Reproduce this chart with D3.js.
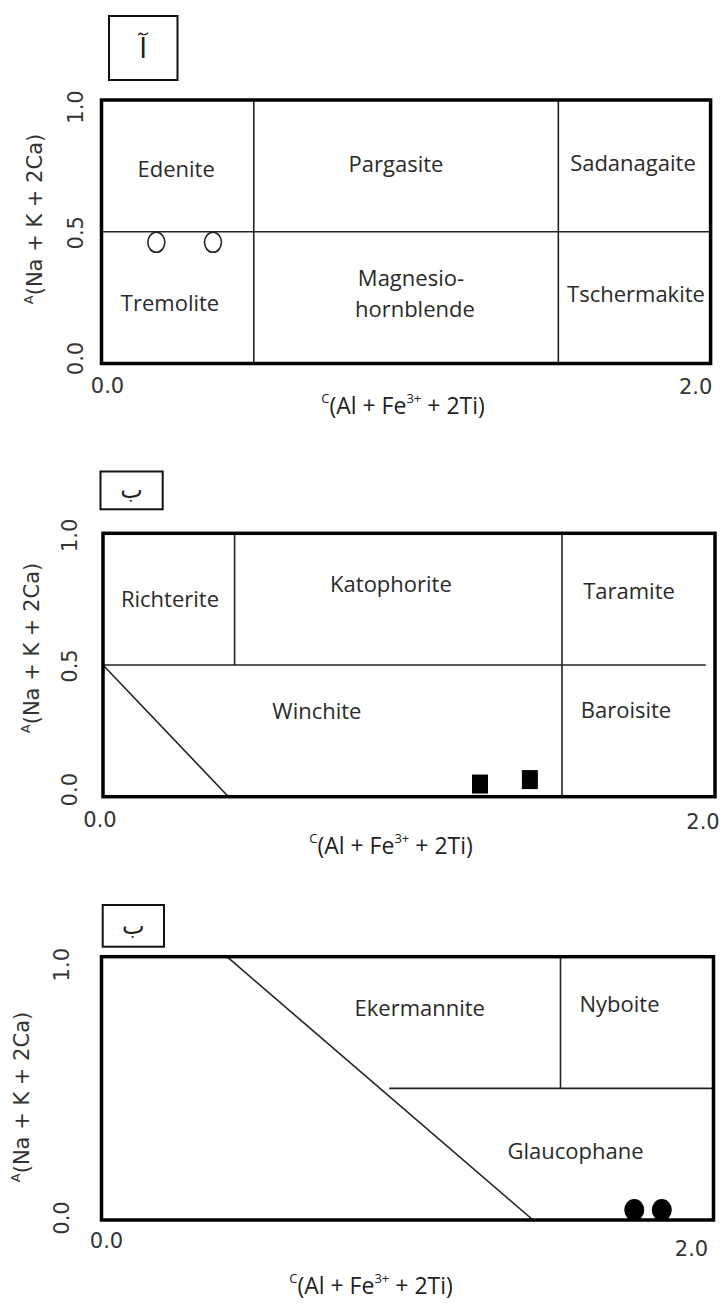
<!DOCTYPE html>
<html><head><meta charset="utf-8">
<script src="https://cdn.jsdelivr.net/npm/d3@7"></script>
<style>body{margin:0;background:#fff}</style></head>
<body>
<svg id="c" width="725" height="1304"></svg>
<script>
// ---------- data ----------
const panelTags = ["آ", "ب", "ب"];
const xTickValues = [0, 2];
const xTickLabels = ["0.0", "2.0"];
const yTickValuesAB = [0, 0.5, 1];
const yTickValuesC = [0, 1];
const yTickLabelsAB = ["0.0", "0.5", "1.0"];
const yTickLabelsC = ["0.0", "1.0"];

// boundary lines [x1, y1, x2, y2] in data units
const linesA = [[0.5, 0, 0.5, 1], [1.5, 0, 1.5, 1], [0, 0.5, 2, 0.5]];
const linesB = [[0.43, 0.5, 0.43, 1], [1.5, 0, 1.5, 1], [0, 0.5, 1.97, 0.5], [0, 0.5, 0.41, 0]];
const linesC = [[0.41, 1, 1.41, 0], [0.94, 0.5, 2, 0.5], [1.5, 0.5, 1.5, 1]];

// field names and their anchor (data units)
const namesA = ["Edenite", "Pargasite", "Sadanagaite", "Tremolite", "Magnesio-", "hornblende", "Tschermakite"];
const namesAx = [0.245, 0.967, 1.745, 0.225, 1.016, 1.029, 1.755];
const namesAy = [0.742, 0.760, 0.764, 0.233, 0.328, 0.211, 0.268];
const namesB = ["Richterite", "Katophorite", "Taramite", "Winchite", "Baroisite"];
const namesBx = [0.219, 0.941, 1.719, 0.699, 1.709];
const namesBy = [0.755, 0.812, 0.785, 0.329, 0.334];
const namesC = ["Ekermannite", "Nyboite", "Glaucophane"];
const namesCx = [1.040, 1.693, 1.549];
const namesCy = [0.810, 0.824, 0.266];

// samples
const samplesAx = [0.18, 0.366];
const samplesAy = [0.46, 0.46];
const samplesBx = [1.232, 1.395];
const samplesBy = [0.048, 0.065];
const samplesCx = [1.741, 1.831];
const samplesCy = [0.038, 0.038];

// ---------- layout ----------
const panels = [
  {frame: [101.5, 100, 710.6, 363.5], tagBox: [109, 16, 177.5, 80], tagSize: 28,
   lines: linesA, names: namesA, nx: namesAx, ny: namesAy, sx: samplesAx, sy: samplesAy, marker: "openCircle",
   yv: yTickValuesAB, yl: yTickLabelsAB, ytx: 76, ytOff: [-5, 1, 7],
   xtOff: [[6, 22], [-15, 23]], ytitle: [35, 219], xtitle: [403, 405]},
  {frame: [103, 533.3, 715, 796.7], tagBox: [100.5, 471.5, 162.7, 509.3], tagSize: 24,
   lines: linesB, names: namesB, nx: namesBx, ny: namesBy, sx: samplesBx, sy: samplesBy, marker: "square",
   yv: yTickValuesAB, yl: yTickLabelsAB, ytx: 70, ytOff: [-7, 1, 2],
   xtOff: [[-3, 23], [-12, 25]], ytitle: [32, 648], xtitle: [391, 845]},
  {frame: [101.5, 956.7, 713.5, 1220], tagBox: [102.7, 905, 164, 946.7], tagSize: 24,
   lines: linesC, names: namesC, nx: namesCx, ny: namesCy, sx: samplesCx, sy: samplesCy, marker: "dot",
   yv: yTickValuesC, yl: yTickLabelsC, ytx: 62, ytOff: [-2, 8],
   xtOff: [[5, 21], [-22, 29]], ytitle: [22, 1097], xtitle: [371, 1285]}
];

const svg = d3.select("#c");
const tickFont = "'DejaVu Sans', sans-serif";
const labelFont = "'Open Sans', sans-serif";

panels.forEach((p, i) => {
  const [l, t, r, b] = p.frame;
  const x = d3.scaleLinear().domain([0, 2]).range([l, r]);
  const y = d3.scaleLinear().domain([0, 1]).range([b, t]);
  const g = svg.append("g");

  // tag box
  const [bx0, by0, bx1, by1] = p.tagBox;
  g.append("rect").attr("x", bx0).attr("y", by0).attr("width", bx1 - bx0).attr("height", by1 - by0)
    .attr("fill", "#fff").attr("stroke", "#111").attr("stroke-width", 2);
  g.append("text").attr("x", (bx0 + bx1) / 2).attr("y", (by0 + by1) / 2)
    .attr("text-anchor", "middle").attr("dominant-baseline", "central")
    .attr("font-family", "'DejaVu Sans', sans-serif").attr("font-size", p.tagSize).attr("fill", "#222")
    .text(panelTags[i]);

  // boundary lines
  g.selectAll("line.b").data(p.lines).join("line").attr("class", "b")
    .attr("x1", d => x(d[0])).attr("y1", d => y(d[1]))
    .attr("x2", d => x(d[2])).attr("y2", d => y(d[3]))
    .attr("stroke", "#222").attr("stroke-width", 1.6);

  // frame
  g.append("rect").attr("x", x(0)).attr("y", y(1)).attr("width", x(2) - x(0)).attr("height", y(0) - y(1))
    .attr("fill", "none").attr("stroke", "#000").attr("stroke-width", 3.5);

  // field names
  g.selectAll("text.n").data(p.names).join("text").attr("class", "n")
    .attr("x", (d, k) => x(p.nx[k])).attr("y", (d, k) => y(p.ny[k]))
    .attr("text-anchor", "middle").attr("dominant-baseline", "central")
    .attr("font-family", labelFont).attr("font-size", 22).attr("fill", "#2a2a2a")
    .text(d => d);

  // samples
  const pts = p.sx.map((v, k) => [v, p.sy[k]]);
  if (p.marker === "openCircle") {
    g.selectAll("ellipse").data(pts).join("ellipse")
      .attr("cx", d => x(d[0])).attr("cy", d => y(d[1])).attr("rx", 8.5).attr("ry", 10)
      .attr("fill", "#fff").attr("stroke", "#222").attr("stroke-width", 1.6);
  } else if (p.marker === "square") {
    g.selectAll("rect.s").data(pts).join("rect").attr("class", "s")
      .attr("x", d => x(d[0]) - 8).attr("y", d => y(d[1]) - 9.5).attr("width", 16).attr("height", 19)
      .attr("fill", "#000");
  } else {
    g.selectAll("ellipse").data(pts).join("ellipse")
      .attr("cx", d => x(d[0])).attr("cy", d => y(d[1])).attr("rx", 10).attr("ry", 11)
      .attr("fill", "#000");
  }

  // y tick labels (rotated)
  p.yv.forEach((v, k) => {
    g.append("text").attr("transform", `translate(${p.ytx},${y(v) + p.ytOff[k]}) rotate(-90)`)
      .attr("text-anchor", "middle").attr("dominant-baseline", "central")
      .attr("font-family", tickFont).attr("font-size", 21).attr("fill", "#333")
      .text(p.yl[k]);
  });

  // x tick labels
  xTickValues.forEach((v, k) => {
    g.append("text").attr("x", x(v) + p.xtOff[k][0]).attr("y", y(0) + p.xtOff[k][1])
      .attr("text-anchor", "middle").attr("dominant-baseline", "central")
      .attr("font-family", tickFont).attr("font-size", 21).attr("fill", "#333")
      .text(xTickLabels[k]);
  });

  // y title
  const yt = g.append("text").attr("transform", `translate(${p.ytitle[0]},${p.ytitle[1]}) rotate(-90)`)
    .attr("text-anchor", "middle").attr("dominant-baseline", "central")
    .attr("font-family", tickFont).attr("font-size", 21).attr("fill", "#333");
  yt.append("tspan").attr("font-size", 13).attr("dy", -7).text("A");
  yt.append("tspan").attr("dy", 7).text("(Na + K + 2Ca)");

  // x title
  const xt = g.append("text").attr("x", p.xtitle[0]).attr("y", p.xtitle[1])
    .attr("text-anchor", "middle").attr("dominant-baseline", "central")
    .attr("font-family", labelFont).attr("font-size", 23).attr("fill", "#222");
  xt.append("tspan").attr("font-size", 13).attr("dy", -7).text("C");
  xt.append("tspan").attr("dy", 7).text("(Al + Fe");
  xt.append("tspan").attr("font-size", 13).attr("dy", -7).text("3+");
  xt.append("tspan").attr("dy", 7).text(" + 2Ti)");
});
</script>
</body></html>
